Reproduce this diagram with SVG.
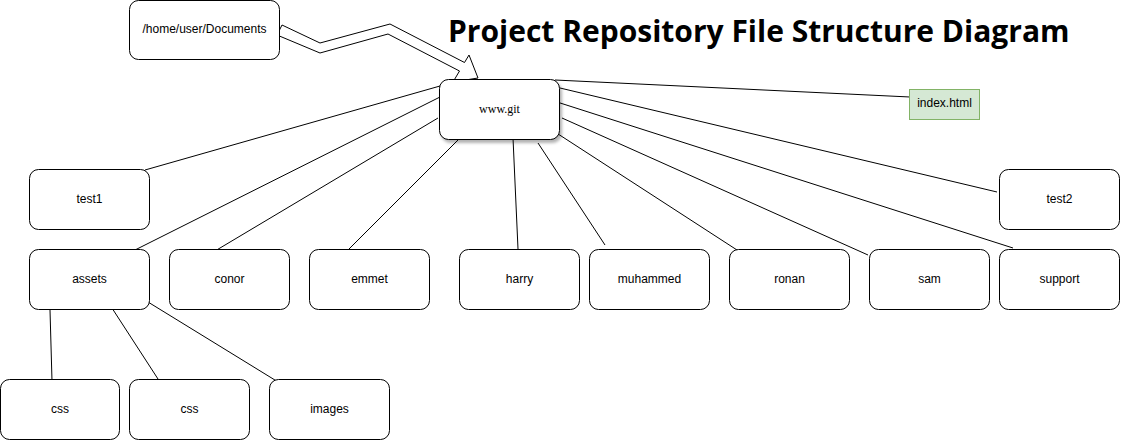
<svg xmlns="http://www.w3.org/2000/svg" width="1121" height="441" viewBox="0 0 1121 441">
<style>
.box{fill:#ffffff;stroke:#000000;stroke-width:1}
.lbl{font-family:"Liberation Sans",Arial,sans-serif;font-size:12px;fill:#000000;text-anchor:middle}
.edge{stroke:#000000;stroke-width:1;fill:none}
</style>
<defs>
<filter id="shadow" x="-20%" y="-20%" width="150%" height="160%">
<feDropShadow dx="2" dy="3" stdDeviation="1.5" flood-color="#000000" flood-opacity="0.3"/>
</filter>
</defs>
<rect width="1121" height="441" fill="#ffffff"/>
<g id="connectors">
<line class="edge" x1="440" y1="86" x2="145" y2="170"/>
<line class="edge" x1="440" y1="97" x2="133" y2="251"/>
<line class="edge" x1="438" y1="118" x2="215" y2="251"/>
<line class="edge" x1="458" y1="140" x2="347" y2="251"/>
<line class="edge" x1="513" y1="138" x2="518" y2="249"/>
<line class="edge" x1="538" y1="143" x2="605" y2="245"/>
<line class="edge" x1="555" y1="132" x2="737" y2="250"/>
<line class="edge" x1="562" y1="118" x2="868" y2="255"/>
<line class="edge" x1="557" y1="102" x2="1013" y2="248"/>
<line class="edge" x1="560" y1="88" x2="997" y2="192"/>
<line class="edge" x1="555" y1="80" x2="910" y2="97"/>
<line class="edge" x1="50" y1="310" x2="52" y2="381"/>
<line class="edge" x1="110" y1="305" x2="158" y2="379"/>
<line class="edge" x1="148" y1="302" x2="283" y2="385"/>
<polygon class="box" points="282,25 320,43 390,24 464.5,62.5 469,55 478,78 453,82 459.5,71 388,34 320,53 277,35"/>
</g>
<g id="node-documents">
<rect class="box" x="129.5" y="0.5" width="150" height="59" rx="9" ry="9"/>
<text class="lbl" x="204.5" y="33">/home/user/Documents</text>
</g>
<g id="node-wwwgit">
<rect class="box" x="439.5" y="79.5" width="120" height="60" rx="9" ry="9" filter="url(#shadow)"/>
<text x="499.5" y="113" style="font-family:'Liberation Serif','Times New Roman',serif;font-size:12px;text-anchor:middle">www.git</text>
</g>
<g id="node-index">
<rect x="909.5" y="89.5" width="70" height="30" fill="#d5e8d4" stroke="#82b366" stroke-width="1"/>
<text class="lbl" x="944.5" y="107">index.html</text>
</g>
<g id="node-test1">
<rect class="box" x="29.5" y="169.5" width="120" height="60" rx="9" ry="9"/>
<text class="lbl" x="89.5" y="202.5">test1</text>
</g>
<g id="node-test2">
<rect class="box" x="999.5" y="169.5" width="120" height="60" rx="9" ry="9"/>
<text class="lbl" x="1059.5" y="202.5">test2</text>
</g>
<g id="node-assets">
<rect class="box" x="29.5" y="249.5" width="120" height="60" rx="9" ry="9"/>
<text class="lbl" x="89.5" y="282.5">assets</text>
</g>
<g id="node-conor">
<rect class="box" x="169.5" y="249.5" width="120" height="60" rx="9" ry="9"/>
<text class="lbl" x="229.5" y="282.5">conor</text>
</g>
<g id="node-emmet">
<rect class="box" x="309.5" y="249.5" width="120" height="60" rx="9" ry="9"/>
<text class="lbl" x="369.5" y="282.5">emmet</text>
</g>
<g id="node-harry">
<rect class="box" x="459.5" y="249.5" width="120" height="60" rx="9" ry="9"/>
<text class="lbl" x="519.5" y="282.5">harry</text>
</g>
<g id="node-muhammed">
<rect class="box" x="589.5" y="249.5" width="120" height="60" rx="9" ry="9"/>
<text class="lbl" x="649.5" y="282.5">muhammed</text>
</g>
<g id="node-ronan">
<rect class="box" x="729.5" y="249.5" width="120" height="60" rx="9" ry="9"/>
<text class="lbl" x="789.5" y="282.5">ronan</text>
</g>
<g id="node-sam">
<rect class="box" x="869.5" y="249.5" width="120" height="60" rx="9" ry="9"/>
<text class="lbl" x="929.5" y="282.5">sam</text>
</g>
<g id="node-support">
<rect class="box" x="999.5" y="249.5" width="120" height="60" rx="9" ry="9"/>
<text class="lbl" x="1059.5" y="282.5">support</text>
</g>
<g id="node-css1">
<rect class="box" x="0.5" y="379.5" width="119" height="60" rx="9" ry="9"/>
<text class="lbl" x="60" y="412.5">css</text>
</g>
<g id="node-css2">
<rect class="box" x="129.5" y="379.5" width="120" height="60" rx="9" ry="9"/>
<text class="lbl" x="189.5" y="412.5">css</text>
</g>
<g id="node-images">
<rect class="box" x="269.5" y="379.5" width="120" height="60" rx="9" ry="9"/>
<text class="lbl" x="329.5" y="412.5">images</text>
</g>
<text id="title" x="448" y="42" style="font-family:'Open Sans','Noto Sans',sans-serif;font-weight:bold;font-size:30px;fill:#000000">Project Repository File Structure Diagram</text>
</svg>
